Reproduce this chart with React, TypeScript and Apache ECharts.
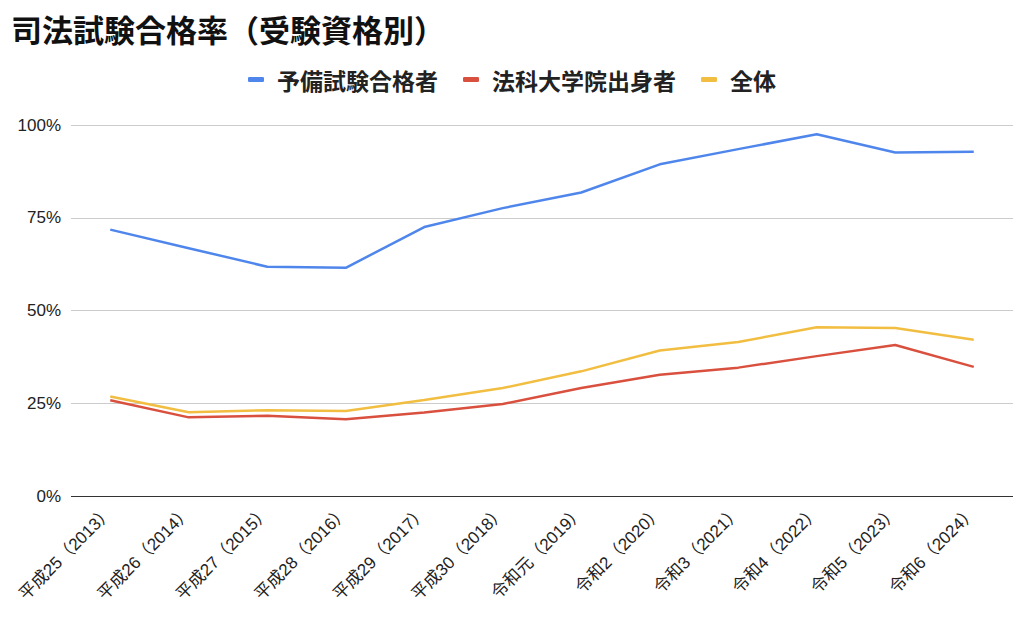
import React, { useEffect, useRef } from "react";
import * as echarts from "echarts";

const categories = [
  "平成25（2013）",
  "平成26（2014）",
  "平成27（2015）",
  "平成28（2016）",
  "平成29（2017）",
  "平成30（2018）",
  "令和元（2019）",
  "令和2（2020）",
  "令和3（2021）",
  "令和4（2022）",
  "令和5（2023）",
  "令和6（2024）",
];
const yobiValues = [71.8, 66.8, 61.8, 61.5, 72.5, 77.6, 81.8, 89.4, 93.5, 97.5, 92.6, 92.8];
const houkaValues = [25.8, 21.2, 21.6, 20.7, 22.5, 24.8, 29.1, 32.7, 34.6, 37.7, 40.7, 34.8];
const totalValues = [26.8, 22.6, 23.1, 22.9, 25.9, 29.1, 33.6, 39.2, 41.5, 45.5, 45.3, 42.1];
const seriesNames = ["予備試験合格者", "法科大学院出身者", "全体"];
const titleText = "司法試験合格率（受験資格別）";

const CJK = '"Noto Sans CJK JP", "Noto Sans", sans-serif';
const LATIN = '"Liberation Sans", "Noto Sans CJK JP", sans-serif';

export default function App() {
  const ref = useRef<HTMLDivElement>(null);
  useEffect(() => {
    if (!ref.current) return;
    const chart = echarts.init(ref.current, undefined, { renderer: "svg" });
    chart.setOption({
      animation: false,
      backgroundColor: "#ffffff",
      textStyle: { fontFamily: CJK },
      title: {
        text: titleText,
        left: 6,
        top: 8,
        textStyle: { fontSize: 31, fontWeight: "bold", color: "#111", fontFamily: CJK },
      },
      legend: {
        data: seriesNames,
        top: 63,
        left: 243,
        itemWidth: 16,
        itemHeight: 5,
        itemGap: 25,
        icon: "roundRect",
        textStyle: { fontSize: 23, fontWeight: "bold", color: "#222", fontFamily: CJK, padding: [0, 0, 0, 8] },
      },
      grid: { left: 71, right: 11, top: 125, bottom: 122 },
      xAxis: {
        type: "category",
        data: categories,
        boundaryGap: true,
        axisLine: { show: false },
        axisTick: { show: false },
        axisLabel: {
          rotate: 45,
          interval: 0,
          margin: 13,
          fontSize: 17,
          color: "#222",
          fontFamily: LATIN,
        },
      },
      yAxis: {
        type: "value",
        min: 0,
        max: 100,
        interval: 25,
        axisLine: { show: false },
        axisTick: { show: false },
        axisLabel: {
          formatter: "{value}%",
          fontSize: 17,
          color: "#222",
          margin: 10,
          fontFamily: LATIN,
        },
        splitLine: {
          lineStyle: {
            color: ["#333333", "#cccccc", "#cccccc", "#cccccc", "#cccccc"],
            width: 1,
          },
        },
      },
      series: [
        {
          name: seriesNames[0],
          type: "line",
          data: yobiValues,
          showSymbol: false,
          symbol: "none",
          lineStyle: { width: 2.5, color: "#4f86ec" },
          itemStyle: { color: "#4f86ec" },
        },
        {
          name: seriesNames[1],
          type: "line",
          data: houkaValues,
          showSymbol: false,
          symbol: "none",
          lineStyle: { width: 2.5, color: "#d9503f" },
          itemStyle: { color: "#d9503f" },
        },
        {
          name: seriesNames[2],
          type: "line",
          data: totalValues,
          showSymbol: false,
          symbol: "none",
          lineStyle: { width: 2.5, color: "#f2be42" },
          itemStyle: { color: "#f2be42" },
        },
      ],
    });
    return () => chart.dispose();
  }, []);
  return <div ref={ref} style={{ width: 1024, height: 618, position: "absolute", left: 0, top: 0 }} />;
}
